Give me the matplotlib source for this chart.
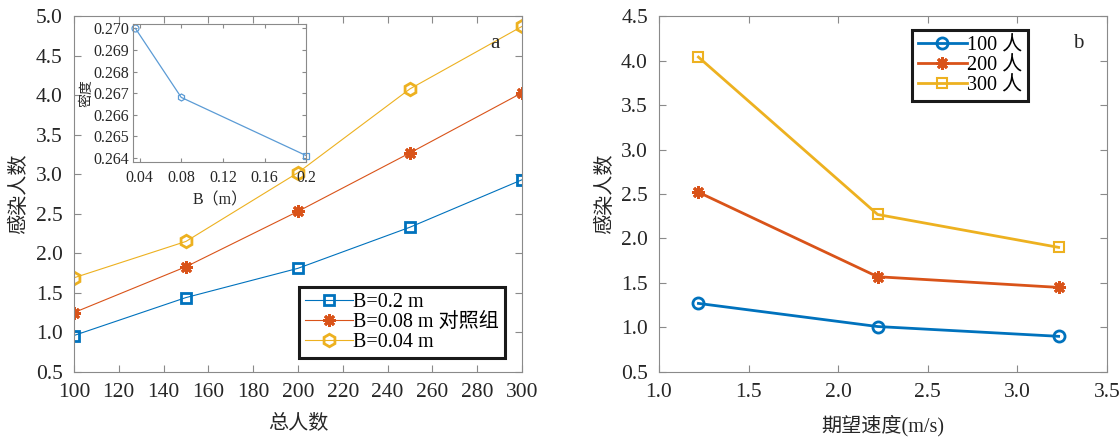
import matplotlib
matplotlib.use("Agg")
import matplotlib.pyplot as plt
import numpy as np
from matplotlib.ticker import FormatStrFormatter

plt.rcParams['font.family'] = ['Liberation Serif', 'Noto Sans CJK SC']
plt.rcParams['axes.unicode_minus'] = False

# ---- data (a) ----
total_people = [100, 150, 200, 250, 300]
b_020 = [0.96, 1.44, 1.81, 2.33, 2.93]
b_008 = [1.25, 1.83, 2.53, 3.27, 4.03]
b_004 = [1.69, 2.15, 3.02, 4.08, 4.87]
labels_a = ['B=0.2 m', 'B=0.08 m 对照组', 'B=0.04 m']

# ---- inset data ----
inset_b = [0.036, 0.08, 0.2]
inset_density = [0.2700, 0.2668, 0.2641]

# ---- data (b) ----
speed = [1.22, 2.22, 3.23]
p100 = [1.27, 1.01, 0.90]
p200 = [2.52, 1.57, 1.45]
p300 = [4.04, 2.27, 1.90]
labels_b = ['100 人', '200 人', '300 人']

C_BLUE = '#0072BD'
C_RED = '#D95319'
C_YEL = '#EDB120'
SPINE = '#8a8a8a'
TXT = '#262626'

TICK_FS = 15.5
LAB_FS = 14.5
LEG_FS = 14.5

fig = plt.figure(figsize=(11.2, 4.37), dpi=100)

def style_ax(ax, fs=TICK_FS, pad=8):
    for s in ax.spines.values():
        s.set_color(SPINE)
        s.set_linewidth(0.8)
    ax.tick_params(direction='in', top=True, right=True, color=SPINE,
                   labelcolor=TXT, labelsize=fs, length=5, width=0.8, pad=pad)

ast = (8, 2, 0)

# ---- left axes ----
ax1 = fig.add_axes([0.066, 0.149, 0.400, 0.814])
ax1.plot(total_people, b_020, color=C_BLUE, lw=0.8, marker='s', ms=7,
         mfc='none', mec=C_BLUE, mew=2, label=labels_a[0])
ax1.plot(total_people, b_008, color=C_RED, lw=0.8, marker=ast, ms=9,
         mec=C_RED, mew=2, label=labels_a[1])
ax1.plot(total_people, b_004, color=C_YEL, lw=0.8, marker='h', ms=9,
         mfc='none', mec=C_YEL, mew=2, label=labels_a[2])
ax1.set_xlim(100, 300)
ax1.set_ylim(0.5, 5.0)
ax1.set_xticks(np.arange(100, 301, 20))
ax1.set_yticks(np.arange(0.5, 5.01, 0.5))
ax1.yaxis.set_major_formatter(FormatStrFormatter('%.1f'))
style_ax(ax1)
ax1.set_xlabel('总人数', fontsize=LAB_FS, color=TXT, labelpad=9)
ax1.set_ylabel('感染人数', fontsize=LAB_FS, color=TXT, labelpad=5)
ax1.text(0.94, 0.924, 'a', transform=ax1.transAxes, fontsize=15,
         ha='center', va='center', color=TXT)
leg1 = ax1.legend(loc='lower right', bbox_to_anchor=(0.962, 0.039),
                  fontsize=LEG_FS, frameon=True, fancybox=False, handlelength=2.4,
                  handletextpad=0.0, borderpad=0.3, labelspacing=0.05,
                  borderaxespad=0, framealpha=1)
leg1.get_frame().set_edgecolor('#1a1a1a')
leg1.get_frame().set_linewidth(2.2)

# ---- inset ----
axi = fig.add_axes([0.119, 0.629, 0.1545, 0.316])
axi.plot(inset_b, inset_density, color='#5b9bd5', lw=0.9)
for xb, yd, mk in zip(inset_b, inset_density, ['o', 'h', 's']):
    axi.plot([xb], [yd], marker=mk, ms=5, mfc='none', mec='#5b9bd5',
             mew=0.9, clip_on=False)
axi.set_xlim(0.034, 0.2)
axi.set_ylim(0.2638, 0.2702)
axi.set_xticks([0.04, 0.08, 0.12, 0.16, 0.2])
axi.set_xticklabels(['0.04', '0.08', '0.12', '0.16', '0.2'])
axi.set_yticks(np.arange(0.264, 0.27001, 0.001))
axi.yaxis.set_major_formatter(FormatStrFormatter('%.3f'))
style_ax(axi, fs=11.5, pad=3)
axi.tick_params(length=3)
axi.tick_params(axis='x', pad=6)
axi.set_xlabel('B（m）', fontsize=11.5, color=TXT, labelpad=4)
axi.set_ylabel('密度', fontsize=10, color=TXT, labelpad=0)

# ---- right axes ----
ax2 = fig.add_axes([0.5884, 0.149, 0.400, 0.814])
ax2.plot(speed, p100, color=C_BLUE, lw=2, marker='o', ms=8, mfc='none',
         mec=C_BLUE, mew=2, label=labels_b[0])
ax2.plot(speed, p200, color=C_RED, lw=2, marker=ast, ms=9, mec=C_RED,
         mew=2, label=labels_b[1])
ax2.plot(speed, p300, color=C_YEL, lw=2, marker='s', ms=7, mfc='none',
         mec=C_YEL, mew=1.5, label=labels_b[2])
ax2.set_xlim(1.0, 3.5)
ax2.set_ylim(0.5, 4.5)
ax2.set_xticks(np.arange(1.0, 3.51, 0.5))
ax2.set_yticks(np.arange(0.5, 4.51, 0.5))
ax2.xaxis.set_major_formatter(FormatStrFormatter('%.1f'))
ax2.yaxis.set_major_formatter(FormatStrFormatter('%.1f'))
style_ax(ax2)
ax2.set_xlabel('期望速度(m/s)', fontsize=LAB_FS, color=TXT, labelpad=9)
ax2.set_ylabel('感染人数', fontsize=LAB_FS, color=TXT, labelpad=4)
ax2.text(0.935, 0.924, 'b', transform=ax2.transAxes, fontsize=15,
         ha='center', va='center', color=TXT)
leg2 = ax2.legend(loc='upper left', bbox_to_anchor=(0.565, 0.961),
                  fontsize=LEG_FS, frameon=True, fancybox=False, handlelength=2.4,
                  handletextpad=0.0, borderpad=0.3, labelspacing=0.05,
                  borderaxespad=0, framealpha=1)
leg2.get_frame().set_edgecolor('#1a1a1a')
leg2.get_frame().set_linewidth(2.2)

fig.savefig('out.png', dpi=100, facecolor='white')
